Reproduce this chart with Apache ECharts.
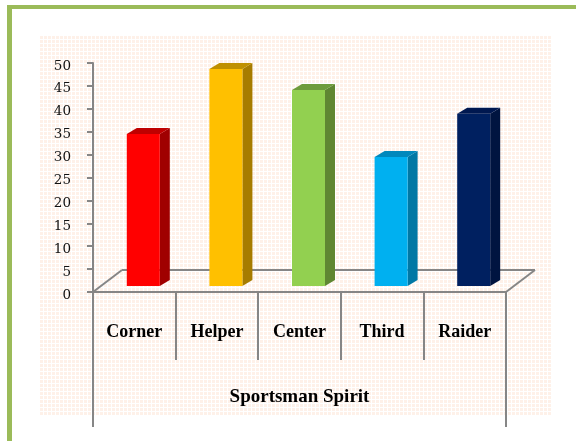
<!DOCTYPE html>
<html><head><meta charset="utf-8">
<style>html,body{margin:0;padding:0;background:#fff}#c{width:576px;height:441px}</style>
<script src="https://cdn.jsdelivr.net/npm/echarts@6/dist/echarts.min.js"></script>
</head><body><div id="c"></div>
<script>
const categories = ['Corner','Helper','Center','Third','Raider'];
const values = [34.5,48.7,44.1,29.5,38.9];
const frontColors = ['#FF0000','#FFC000','#92D050','#00B0F0','#002060'];
const sideColors = ['#A00000','#A67C00','#5F8732','#0078A5','#001440'];
const topColors = ['#BF0000','#BF9000','#6E9C3C','#0088BC','#001850'];
const yTicks = [0,50];
const axisName = 'Sportsman Spirit';

const GREY = '#868686';
const chart = echarts.init(document.getElementById('c'), null, {renderer:'canvas'});

const tile = document.createElement('canvas');
tile.width = 4; tile.height = 4;
const tc = tile.getContext('2d');
tc.fillStyle = '#FEF1E9'; tc.fillRect(0,0,3,3);

const DX = 10, DY = 6, BAR_W = 33, BASE = 6, BAR_SHIFT = 9;

function renderBar(params, api){
  const i = api.value(0);
  const top = api.coord([i, api.value(1)]);
  const zero = api.coord([i, 0]);
  const x = top[0] - BAR_W/2 + BAR_SHIFT, w = BAR_W, y = top[1], b = zero[1] - BASE;
  const s = (pts, fill) => ({type:'polygon', shape:{points:pts}, style:{fill}});
  return {type:'group', children:[
    s([[x+w,y],[x+w+DX,y-DY],[x+w+DX,b-DY],[x+w,b]], sideColors[i]),
    s([[x,y],[x+DX,y-DY],[x+w+DX,y-DY],[x+w,y]], topColors[i]),
    {type:'rect', shape:{x,y,width:w,height:b-y}, style:{fill:frontColors[i]}}
  ]};
}

function renderFloor(params, api){
  const size = api.size([1,0]);
  const band = size[0];
  const l = api.coord([0,0]); const x0 = l[0]-band/2, y0 = l[1];
  const x1 = x0 + band*categories.length;
  const line = (a,b,c,d,w) => ({type:'line', shape:{x1:a,y1:b,x2:c,y2:d}, style:{stroke:GREY, lineWidth:w||2}});
  return {type:'group', children:[
    line(x0,y0,x0+29,y0-22),
    line(x0+29,y0-22,x1+29,y0-22),
    line(x1+29,y0-22,x1,y0),
    line(x0,y0,x0,y0+135,2),
    line(x1,y0,x1,y0+135,2)
  ]};
}

chart.setOption({
  animation:false,
  graphic:[
    {type:'rect', z:-10, shape:{x:40,y:36,width:511,height:379}, style:{fill:{image:tile, repeat:'repeat'}}},
    {type:'rect', z:-9, shape:{x:7,y:5,width:569,height:4}, style:{fill:'#9BBB59'}},
    {type:'rect', z:-9, shape:{x:7,y:5,width:5,height:436}, style:{fill:'#9BBB59'}}
  ],
  grid:{left:93, right:70, top:63, bottom:149, containLabel:false},
  xAxis:{
    type:'category', data:categories,
    axisLine:{lineStyle:{color:GREY,width:2}},
    axisTick:{show:true, alignWithLabel:false, length:68, lineStyle:{color:GREY,width:2}},
    axisLabel:{color:'#000', fontFamily:'Liberation Serif', fontWeight:'bold', fontSize:18, margin:31},
    name:axisName, nameLocation:'middle', nameGap:96,
    nameTextStyle:{color:'#000', fontFamily:'Liberation Serif', fontWeight:'bold', fontSize:19}
  },
  yAxis:{
    type:'value', min:yTicks[0], max:yTicks[1], interval:5,
    splitLine:{show:false},
    axisLine:{show:true, lineStyle:{color:GREY,width:2}},
    axisTick:{show:true, length:6, lineStyle:{color:GREY,width:2}},
    axisLabel:{color:'#111', fontFamily:'"DejaVu Serif", serif', fontSize:13.5, margin:22, verticalAlign:'top', lineHeight:6}
  },
  series:[
    {type:'custom', z:1, silent:true, renderItem:renderFloor, data:[[0,0]], encode:{x:0,y:1}, clip:false},
    {type:'custom', z:3, renderItem:renderBar, data:values.map((v,i)=>[i,v]), encode:{x:0,y:1}, clip:false}
  ]
});
</script></body></html>
